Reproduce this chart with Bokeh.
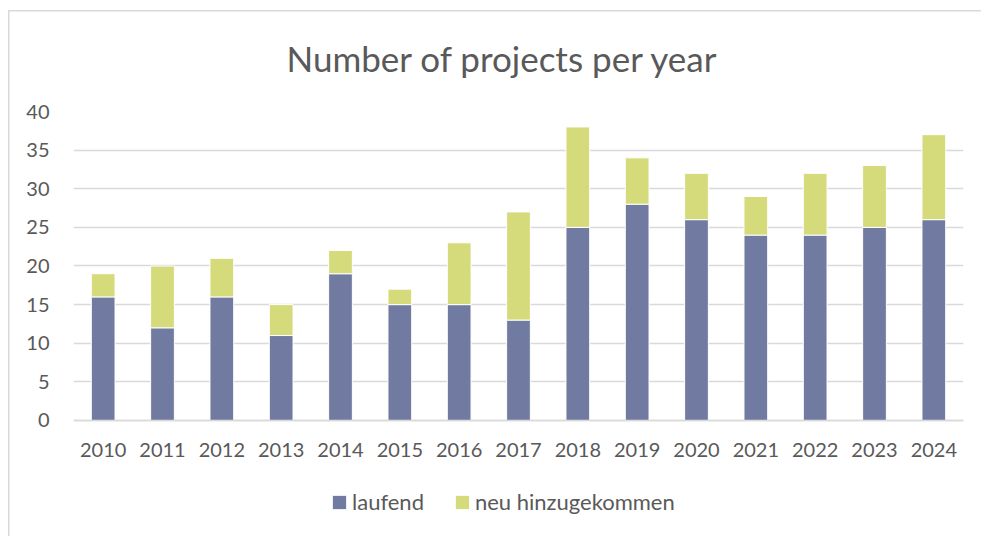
from bokeh.plotting import figure
from bokeh.models import FactorRange, Range1d, FixedTicker, Legend, LegendItem
from bokeh.embed import file_html
from bokeh.resources import INLINE

years = ["2010", "2011", "2012", "2013", "2014", "2015", "2016", "2017",
         "2018", "2019", "2020", "2021", "2022", "2023", "2024"]
laufend = [16, 12, 16, 11, 19, 15, 15, 13, 25, 28, 26, 24, 24, 25, 26]
neu = [3, 8, 5, 4, 3, 2, 8, 14, 13, 6, 6, 5, 8, 8, 11]
series_names = ["laufend", "neu hinzugekommen"]
colors = ["#717BA2", "#D5DA7A"]
y_ticks = [0, 5, 10, 15, 20, 25, 30, 35, 40]

FONT = "Lato"
TXT = "#595959"
GRID = "#D9D9D9"

# frame runs from y=111 (value 40) to y=520; value 0 sits at y=420
Y_MIN = -12.945

p = figure(width=981, height=536, x_range=FactorRange(*years), y_range=Range1d(Y_MIN, 40),
           output_backend="svg", toolbar_location=None,
           min_border_left=73, min_border_right=18, min_border_top=111, min_border_bottom=16,
           border_fill_color=None,
           styles={"background-image": "linear-gradient(#D9D9D9, #D9D9D9), linear-gradient(#D9D9D9, #D9D9D9)",
                   "background-size": "100% 1.5px, 1.5px 100%",
                   "background-position": "8px 10px, 8px 10px",
                   "background-repeat": "no-repeat"})

data = {"years": years, "laufend": laufend, "neu hinzugekommen": neu}
rs = p.vbar_stack(series_names, x="years", width=0.4, color=colors, line_color="white",
                  line_width=1, source=data)

p.title.text = "Number of projects per year"
p.title.align = "left"
p.title.offset = 213
p.title.text_font = FONT
p.title.text_font_size = "35px"
p.title.text_font_style = "normal"
p.title.text_color = TXT
p.title.standoff = 65

p.outline_line_color = None
p.xgrid.grid_line_color = None
p.ygrid.grid_line_color = GRID
p.ygrid.grid_line_width = 1.5
p.yaxis.ticker = FixedTicker(ticks=y_ticks)

for ax in (p.xaxis[0], p.yaxis[0]):
    ax.major_tick_line_color = None
    ax.minor_tick_line_color = None
    ax.major_label_text_font = FONT
    ax.major_label_text_font_size = "20px"
    ax.major_label_text_color = TXT
p.yaxis.axis_line_color = None
p.yaxis.major_label_standoff = 18
p.xaxis.fixed_location = 0
p.xaxis.axis_line_color = GRID
p.xaxis.axis_line_width = 1.5
p.xaxis.major_label_standoff = 17

legend = Legend(items=[LegendItem(label=series_names[i], renderers=[rs[i]]) for i in range(2)],
                orientation="horizontal", location=(257, 5),
                glyph_width=18, glyph_height=18, label_standoff=4, spacing=29,
                padding=0, margin=0, border_line_color=None, background_fill_alpha=0,
                label_text_font=FONT, label_text_font_size="22px", label_text_color=TXT)
p.add_layout(legend, "center")

open("out.html", "w").write(file_html(p, INLINE))
